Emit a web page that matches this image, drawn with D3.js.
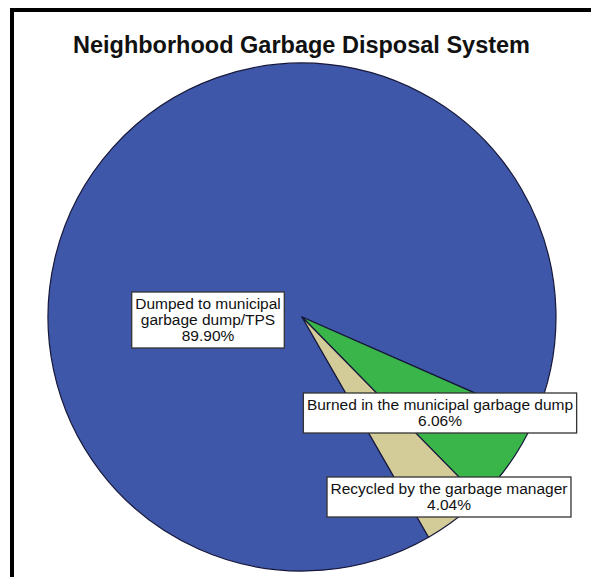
<!DOCTYPE html>
<html>
<head>
<meta charset="utf-8">
<script src="https://cdn.jsdelivr.net/npm/d3@7"></script>
<style>
	body { margin: 0; background: #fff; }
	svg { display: block; }
</style>
</head>
<body>
<div id="chart"></div>
<script>

// data
const categories = [
	"Dumped to municipal garbage dump/TPS",
	"Burned in the municipal garbage dump",
	"Recycled by the garbage manager"
];
const percents = [89.90, 6.06, 4.04];
const labelLines = [
	["Dumped to municipal", "garbage dump/TPS"],
	["Burned in the municipal garbage dump"],
	["Recycled by the garbage manager"]
];
const sliceColors = ["#3f57a9", "#3ab54a", "#d4cc98"];
const title = "Neighborhood Garbage Disposal System";

const width = 591,
	height = 577,
	cx = 302,
	cy = 317,
	radius = 254,
	startAngle = 150.1 * Math.PI / 180; // blue starts just past the tan slice

// label box centres, relative to the pie centre
const labelOffsets = [[-94, 3], [138, 96], [147, 180]];

const data = categories.map((c, i) => ({
	name: c,
	value: percents[i],
	lines: labelLines[i],
	color: sliceColors[i],
	offset: labelOffsets[i]
}));

const svg = d3.select('#chart').append('svg')
	.attr('width', width)
	.attr('height', height);

// frame, only top and left edges are in the crop
svg.append('path')
	.attr('d', `M12,${height} L12,10 L${width},10`)
	.style('fill', 'none')
	.style('stroke', '#000')
	.style('stroke-width', 4);

svg.append('text')
	.attr('x', 301.5)
	.attr('y', 53)
	.attr('text-anchor', 'middle')
	.style('font-family', '"Liberation Sans", Arial, sans-serif')
	.style('font-weight', 'bold')
	.style('font-size', '23.5px')
	.style('fill', '#111')
	.text(title);

const pie = d3.pie()
	.sort(null)
	.value(d => d.value)
	.startAngle(startAngle)
	.endAngle(startAngle + 2 * Math.PI);

const arc = d3.arc()
	.innerRadius(0)
	.outerRadius(radius);

const chartInner = svg.append('g')
	.attr('transform', `translate(${cx}, ${cy})`);

chartInner.selectAll('.slice')
	.data(pie(data))
	.enter()
	.append('path')
		.attr('class', 'slice')
		.attr('d', arc)
		.style('fill', d => d.data.color)
		.style('stroke', '#16183a')
		.style('stroke-width', 1.2)
		.style('stroke-linejoin', 'round');

const fontSize = 15.5,
	lineHeight = 16;

const labels = chartInner.selectAll('.label')
	.data(data)
	.enter().append('g')
	.attr('class', 'label')
	.attr('transform', d => `translate(${d.offset[0]}, ${d.offset[1]})`);

labels.each(function(d){
	const g = d3.select(this);
	const rows = d.lines.concat([d.value.toFixed(2) + '%']);
	const rect = g.append('rect');
	const text = g.append('text')
		.attr('text-anchor', 'middle')
		.style('font-family', '"Liberation Sans", Arial, sans-serif')
		.style('font-size', fontSize + 'px')
		.style('fill', '#111');

	const top = -rows.length * lineHeight / 2;
	rows.forEach((r, i) => {
		text.append('tspan')
			.attr('x', 0)
			.attr('y', top + i * lineHeight + lineHeight / 2)
			.attr('dy', '0.35em')
			.text(r);
	});

	const w = text.node().getBBox().width + 7;
	const h = rows.length * lineHeight + 8;
	rect.attr('x', -w / 2)
		.attr('y', -h / 2)
		.attr('width', w)
		.attr('height', h)
		.style('fill', '#fff')
		.style('stroke', '#333')
		.style('stroke-width', 1.3);
});

</script>
</body>
</html>
